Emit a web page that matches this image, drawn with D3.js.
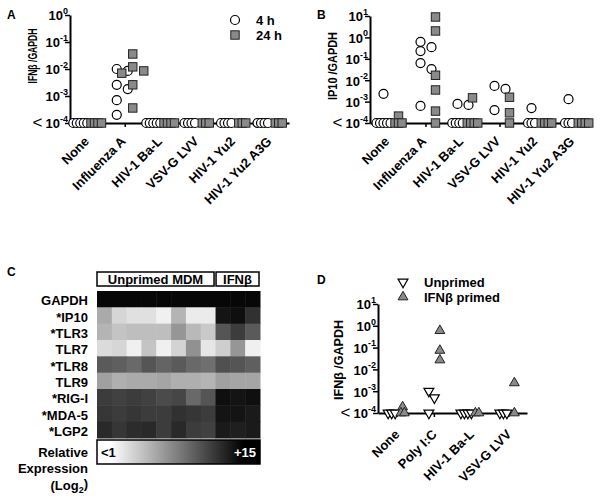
<!DOCTYPE html>
<html><head><meta charset="utf-8">
<script src="https://cdn.jsdelivr.net/npm/d3@7"></script>
<style>
body{margin:0;background:#fff}
svg{display:block}
text{font-family:"Liberation Sans",Arial,sans-serif;font-weight:bold;fill:#000}
</style>
</head><body>
<svg id="fig" width="600" height="498"></svg>
<script>
// ---------------- DATA ----------------
const LOD = 1e-4; // below detection limit, plotted at "<10^-4"
const categoriesAB = ["None","Influenza A","HIV-1 Ba-L","VSV-G LVV","HIV-1 Yu2","HIV-1 Yu2 A3G"];
const ticksA = [1e-4,1e-3,1e-2,1e-1,1];
const ticksB = [1e-4,1e-3,1e-2,1e-1,1,10];
const ticksD = [1e-4,1e-3,1e-2,1e-1,1,10];

// Panel A: IFNβ / GAPDH
const panelA_4h = [
  [LOD,LOD,LOD,LOD,LOD],
  [1.0e-2,8.5e-3,2.6e-3,1.8e-3,7e-4,2e-4],
  [LOD,LOD,LOD,LOD,LOD],
  [LOD,LOD,LOD,LOD],
  [LOD,LOD,LOD,LOD],
  [LOD,LOD,LOD,LOD]
];
const panelA_24h = [
  [LOD,LOD,LOD,LOD],
  [3.6e-2,1.2e-2,8.5e-3,7e-3,2.6e-3,3.6e-4],
  [LOD,LOD,LOD,LOD],
  [LOD,LOD,LOD],
  [LOD,LOD,LOD],
  [LOD,LOD,LOD]
];
// Panel B: IP10 / GAPDH
const panelB_4h = [
  [2.3e-3,LOD,LOD,LOD,LOD,LOD],
  [0.62,0.35,0.23,0.063,0.033,6.3e-4],
  [7.8e-4,7e-4,LOD,LOD,LOD,LOD],
  [5.4e-3,3.9e-3,4e-4],
  [5e-4,LOD,LOD,LOD],
  [1.3e-3,LOD,LOD,LOD]
];
const panelB_24h = [
  [2.1e-4,LOD,LOD,LOD],
  [9,2,0.017,3.5e-3,3.6e-4,LOD],
  [1.5e-3,LOD,LOD,LOD,LOD],
  [1.6e-3,3e-4,LOD],
  [LOD,LOD,LOD,LOD],
  [LOD,LOD,LOD,LOD]
];
// Panel D: IFNβ / GAPDH
const categoriesD = ["None","Poly I:C","HIV-1 Ba-L","VSV-G LVV"];
const panelD_unprimed = [[LOD,LOD,LOD],[1e-3,5e-4,LOD],[LOD,LOD,LOD,LOD],[LOD,LOD,LOD]];
const panelD_primed   = [[1.9e-4,LOD,LOD],[0.6,0.074,0.027],[LOD,LOD],[2.4e-3,LOD]];

// Panel C: heatmap, relative expression (log2)
const heatRows = ["GAPDH","*IP10","*TLR3","TLR7","*TLR8","TLR9","*RIG-I","*MDA-5","*LGP2"];
const heatCols = ["U1","U2","U3","U4","U5","U6","U7","U8","I1","I2","I3"];
const heatValues = [
  [14.6,14.6,14.6,14.6,14.6,14.6,14.6,14.6,14.6,14.6,14.6],
  [5.0,2.4,1.8,1.8,0.9,4.4,1.2,1.2,13.8,14.1,12.1],
  [4.4,3.5,3.8,3.8,3.8,6.2,4.1,3.2,10.0,11.5,9.7],
  [2.1,2.4,0.9,3.5,0.9,2.6,6.5,1.5,2.9,6.2,0.9],
  [9.7,9.4,8.8,10.0,9.1,9.7,8.8,8.5,10.3,10.0,9.4],
  [5.6,4.7,5.0,5.0,5.3,4.7,4.7,4.4,5.6,5.3,5.3],
  [11.5,11.2,11.5,11.2,10.6,10.9,8.8,10.0,14.1,13.8,14.1],
  [11.8,11.5,11.8,11.5,11.5,12.1,11.8,11.5,13.8,13.8,13.5],
  [12.6,11.8,12.4,12.6,11.5,12.6,11.5,11.2,13.5,13.2,13.5]
];
const heatGroups = ["Unprimed MDM","IFNβ"];

// ---------------- DRAW ----------------
const svg = d3.select("#fig");
svg.append("rect").attr("width",600).attr("height",498).attr("fill","#fff");
const FONT = "Liberation Sans, Arial, sans-serif";
const GRAY = "#8a8a8a";

function styleAxis(g){
  g.attr("font-family",FONT).attr("font-size",13).attr("font-weight","bold");
  g.select(".domain").attr("stroke","#000").attr("stroke-width",2);
  g.selectAll(".tick line").attr("stroke","#000").attr("stroke-width",1.5);
}
function yAxis(y, xPos, ticks){
  const g = svg.append("g").attr("transform",`translate(${xPos},0)`)
    .call(d3.axisLeft(y).tickValues(ticks).tickSize(5).tickSizeOuter(0));
  styleAxis(g);
  g.selectAll(".tick text").each(function(d){
    const t = d3.select(this).text(null).attr("x",-2).attr("dy","0.38em");
    const e = Math.round(Math.log10(d));
    if (d <= LOD){
      t.append("tspan").attr("font-weight","normal").attr("font-size",17).text("<");
      t.append("tspan").attr("dx",3).text("10");
    } else t.append("tspan").text("10");
    t.append("tspan").attr("font-size",9).attr("dy","-0.75em").text(e);
  });
  return g;
}
function xAxis(x, yPos, tx, ty){
  const g = svg.append("g").attr("transform",`translate(0,${yPos})`)
    .call(d3.axisBottom(x).tickSize(4).tickSizeOuter(0));
  styleAxis(g);
  g.selectAll(".tick text").attr("x",0).attr("y",0).attr("dy","0.35em")
    .attr("text-anchor","end").attr("transform",`translate(${tx},${ty}) rotate(-45)`);
  return g;
}
function placePoints(vals, y, cx, baseStep, thr, step){
  const pts = vals.map(v => ({v, y: y(v)}));
  const base = pts.filter(p => p.v <= LOD);
  base.forEach((p,i) => p.x = cx + (i - (base.length-1)/2) * baseStep);
  const placed = [];
  pts.filter(p => p.v > LOD).sort((a,b)=>a.y-b.y).forEach(p => {
    for (let k=0; k<40; k++){
      const off = k===0 ? 0 : (k%2 ? 1 : -1) * Math.ceil(k/2) * step;
      const xx = cx + off;
      if (placed.every(q => Math.hypot(q.x-xx, q.y-p.y) >= thr)){ p.x = xx; break; }
    }
    placed.push(p);
  });
  return pts;
}
function marker(g, shape, x, y){
  if (shape==="circle")
    g.append("circle").attr("cx",x).attr("cy",y).attr("r",4.5).attr("fill","#fff").attr("stroke","#000").attr("stroke-width",1.2);
  else if (shape==="square")
    g.append("rect").attr("x",x-4.2).attr("y",y-4.2).attr("width",8.4).attr("height",8.4).attr("fill",GRAY).attr("stroke","#222").attr("stroke-width",1);
  else if (shape==="down")
    g.append("path").attr("d",d3.symbol(d3.symbolTriangle,42)()).attr("transform",`translate(${x},${y}) rotate(180)`).attr("fill","#fff").attr("stroke","#000").attr("stroke-width",1.2);
  else if (shape==="up")
    g.append("path").attr("d",d3.symbol(d3.symbolTriangle,42)()).attr("transform",`translate(${x},${y})`).attr("fill",GRAY).attr("stroke","#222").attr("stroke-width",1);
}
function drawSeries(series, cats, x, y, dx, shape){
  const g = svg.append("g");
  series.forEach((vals,i) => {
    placePoints(vals, y, x(cats[i]) + dx, 3.5, 8.5, 5.5).forEach(p => marker(g, shape, p.x, p.y));
  });
}
function yLabel(txt, x, y, len){
  svg.append("text").attr("transform",`translate(${x},${y}) rotate(-90)`)
    .attr("text-anchor","middle").attr("dominant-baseline","central")
    .attr("font-size",13).attr("textLength",len).attr("lengthAdjust","spacingAndGlyphs").text(txt);
}
function letter(txt,x,y){ svg.append("text").attr("x",x).attr("y",y).attr("font-size",12).text(txt); }

// ----- Panel A -----
const yA = d3.scaleLog().domain([1e-4,1]).range([123,15]);
const xA = d3.scalePoint().domain(categoriesAB).range([70,289]).padding(0.5);
xAxis(xA,123,-2,16);
yAxis(yA,70,ticksA);
drawSeries(panelA_4h, categoriesAB, xA, yA, -8, "circle");
drawSeries(panelA_24h, categoriesAB, xA, yA, 8, "square");
yLabel("IFNβ /GAPDH", 32, 56, 55);
letter("A",7,19);
const legA = svg.append("g");
marker(legA,"circle",235,20); marker(legA,"square",235,35);
legA.append("text").attr("x",256).attr("y",20).attr("dy","0.35em").attr("font-size",13).text("4 h");
legA.append("text").attr("x",256).attr("y",35).attr("dy","0.35em").attr("font-size",13).text("24 h");

// ----- Panel B -----
const yB = d3.scaleLog().domain([1e-4,10]).range([123,16]);
const xB = d3.scalePoint().domain(categoriesAB).range([370,592]).padding(0.5);
xAxis(xB,123,-2,16);
yAxis(yB,370,ticksB);
drawSeries(panelB_4h, categoriesAB, xB, yB, -5, "circle");
drawSeries(panelB_24h, categoriesAB, xB, yB, 10, "square");
yLabel("IP10 /GAPDH", 332, 66, 68);
letter("B",317,19);

// ----- Panel D -----
const yD = d3.scaleLog().domain([1e-4,10]).range([413,304]);
const xD = d3.scalePoint().domain(categoriesD).range([378,527]).padding(0.5);
xAxis(xD,413,0,19);
yAxis(yD,378,ticksD);
drawSeries(panelD_unprimed, categoriesD, xD, yD, -5, "down");
drawSeries(panelD_primed, categoriesD, xD, yD, 6, "up");
yLabel("IFNβ /GAPDH", 338, 360, 80);
letter("D",317,284);
const legD = svg.append("g");
marker(legD,"down",403,282); marker(legD,"up",403,297);
legD.append("text").attr("x",424).attr("y",282).attr("dy","0.35em").attr("font-size",13).text("Unprimed");
legD.append("text").attr("x",424).attr("y",297).attr("dy","0.35em").attr("font-size",13).text("IFNβ primed");

// ----- Panel C -----
letter("C",7,276);
const xH = d3.scaleBand().domain(heatCols).range([97,260]);
const yH = d3.scaleBand().domain(heatRows).range([291,438]);
const heatColor = d3.scaleLinear().domain([0,15]).range(["#ffffff","#000000"]).clamp(true);
const gH = svg.append("g");
heatRows.forEach((r,i) => heatCols.forEach((c,j) => {
  gH.append("rect").attr("x",xH(c)).attr("y",yH(r)).attr("width",xH.bandwidth()+0.5).attr("height",yH.bandwidth()+0.5)
    .attr("fill",heatColor(heatValues[i][j]));
}));
heatRows.forEach(r => svg.append("text").attr("x",88).attr("y",yH(r)+yH.bandwidth()/2+1.5)
  .attr("dy","0.35em").attr("text-anchor","end").attr("font-size",13).text(r));
// group boxes
const boxes = [
  {label: heatGroups[0], x0: xH(heatCols[0]), x1: xH(heatCols[7]) + xH.bandwidth() - 1.5},
  {label: heatGroups[1], x0: xH(heatCols[8]) + 0.5, x1: xH(heatCols[10]) + xH.bandwidth() - 1}
];
boxes.forEach(b => {
  svg.append("rect").attr("x",b.x0).attr("y",272).attr("width",b.x1-b.x0).attr("height",14)
    .attr("fill","#fff").attr("stroke","#000").attr("stroke-width",1.5);
  svg.append("text").attr("x",(b.x0+b.x1)/2).attr("y",279).attr("dy","0.36em").attr("text-anchor","middle")
    .attr("font-size",13).text(b.label);
});
// colour bar
const defs = svg.append("defs");
const grad = defs.append("linearGradient").attr("id","gbar");
[[0,0],[0.08,0],[0.9,15],[1,15]].forEach(([o,v]) =>
  grad.append("stop").attr("offset",o).attr("stop-color",heatColor(v)));
svg.append("rect").attr("x",97).attr("y",440).attr("width",163).attr("height",24)
  .attr("fill","url(#gbar)").attr("stroke","#000").attr("stroke-width",1.5);
svg.append("text").attr("x",101).attr("y",452).attr("dy","0.35em").attr("font-size",13).text("<1");
svg.append("text").attr("x",256).attr("y",452).attr("dy","0.35em").attr("text-anchor","end")
  .attr("font-size",13).style("fill","#fff").text("+15");
svg.append("text").attr("x",88).attr("y",452).attr("dy","0.35em").attr("text-anchor","end").attr("font-size",13).text("Relative");
svg.append("text").attr("x",88).attr("y",468).attr("dy","0.35em").attr("text-anchor","end").attr("font-size",13).text("Expression");
const lg = svg.append("text").attr("x",88).attr("y",485).attr("dy","0.35em").attr("text-anchor","end").attr("font-size",13);
lg.append("tspan").text("(Log");
lg.append("tspan").attr("font-size",9).attr("dy","0.35em").text("2");
lg.append("tspan").attr("dy","-0.35em").text(")");
</script>
</body></html>
